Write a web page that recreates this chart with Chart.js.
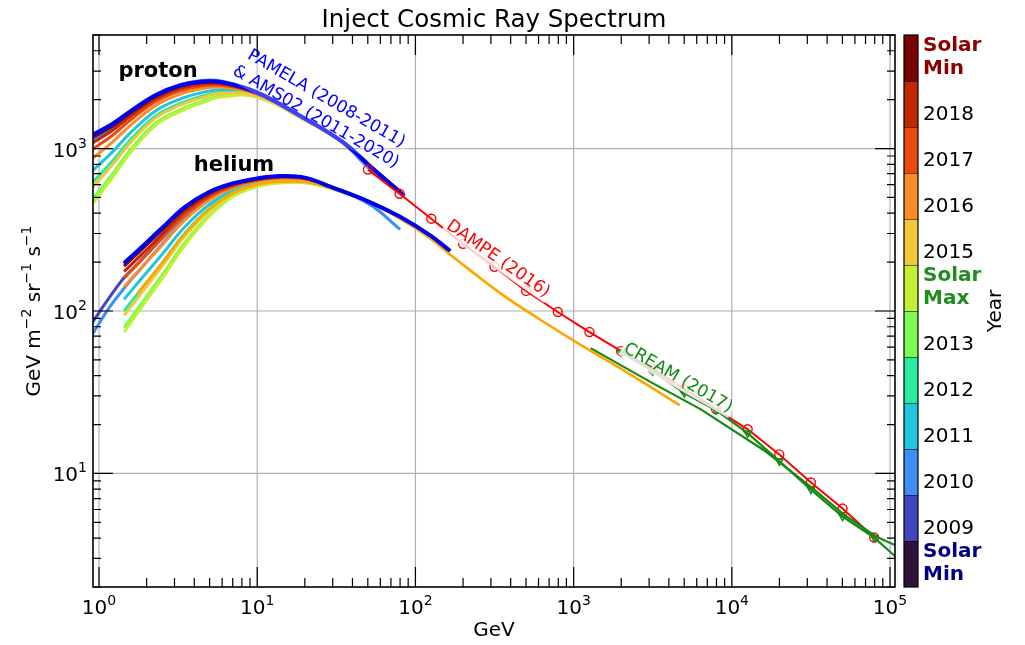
<!DOCTYPE html>
<html>
<head>
<meta charset="utf-8">
<script src="https://cdn.jsdelivr.net/npm/chart.js@4.4.1/dist/chart.umd.min.js"></script>
<style>
html,body{margin:0;padding:0;background:#fff;}
</style>
</head>
<body>
<canvas id="spectrumChart" width="1025" height="645"></canvas>
<script>
// Inject Cosmic Ray Spectrum

// colour bar, bottom to top
const yearNames = ["Solar Min","2009","2010","2011","2012","2013","Solar Max","2015","2016","2017","2018","Solar Min"];
const yearColors = ["#30123b","#4145c0","#3e8ef5","#20c5dc","#2ae9a0","#7cfb55","#c4f034","#f2c83a","#fc8b2a","#e84a12","#c12702","#7a0403"];

// tick labels (powers of ten)
const xTickExp = [0,1,2,3,4,5];
const yTickExp = [1,2,3];

// proton, one curve per colour bar entry (GeV, flux)
const protonE = [0.9,1.2,1.6,2.3,3.3,4.4,6,10,20,35,52,80];
const protonFlux = [
[1196,1395,1700,2130,2452,2575,2553,2207,1530,1090,775,543],
[1184,1384,1690,2121,2443,2566,2548,2205,1530,1090,775,543],
[1116,1322,1640,2100,2450,2620,2600,2230,1540,1075,740,530],
[723,941,1266,1715,2029,2202,2297,2135,1509,1088,774,543],
[611,826,1148,1596,1905,2091,2218,2112,1502,1087,773,543],
[482,686,999,1442,1743,1942,2110,2080,1492,1085,773,543],
[450,650,960,1400,1700,1900,2080,2070,1490,1085,773,543],
[570,782,1102,1550,1856,2046,2186,2102,1500,1087,773,543],
[863,1082,1405,1851,2170,2327,2384,2160,1517,1089,774,543],
[982,1195,1515,1956,2276,2422,2449,2178,1522,1090,775,543],
[1073,1282,1596,2032,2353,2489,2496,2191,1527,1090,775,543],
[1161,1363,1671,2103,2425,2551,2537,2203,1529,1090,775,543]
];

// PAMELA & AMS02 proton (thick blue)
const protonRefE = [0.9,1.2,1.6,2.3,3.3,4.4,6,10,20,35,52,85];
const protonRef = [1209,1406,1710,2140,2460,2580,2560,2210,1530,1090,775,510];

// helium, one curve per colour bar entry
const heliumE = [1.44,1.8,2.5,3.5,5,7,10,14,20,29,51,80];
const heliumWideE = [0.9,1.17,1.44,1.8,2.5,3.5,5,7,10,14,20,29,51,80];
const heliumFlux = [
[195,238,322,436,540,609,654,676,661,582,470,380],
[84,122,160,200,285,400,515,595,646,670,656,580,470,380],
[71,106,138,178,258,372,495,583,640,666,652,576,455,318],
[118,153,223,331,454,553,617,644,637,576,470,380],
[100,132,197,302,428,535,605,633,629,574,470,380],
[79,107,166,265,394,512,588,618,618,571,470,380],
[74,101,158,255,385,505,583,614,615,570,470,380],
[94,124,188,290,418,528,600,629,626,573,470,380],
[141,179,254,364,483,572,630,655,646,578,470,380],
[160,200,279,391,505,586,639,663,652,579,470,380],
[175,216,297,411,520,597,646,669,656,580,470,380],
[189,232,315,429,535,605,652,675,660,581,470,380]
];

// PAMELA & AMS02 helium (thick blue)
const heliumRefE = [1.44,1.8,2.5,3.5,5,7,10,14,20,29,51,80,124,166];
const heliumRef = [197,240,324,438,542,610,655,677,662,582,470,380,292,234];

// helium extended to high energy (orange)
const heliumExtE = [1.75,2.5,3.5,5,7,10,14,20,29,51,80,124,166,347,620,1100,2000,4690];
const heliumExt = [128,197,300,425,530,600,625,622,572,468,370,280,222,128,88,62,44,26.3];

// DAMPE (2016)
const dampeE = [50.1,79.4,126,200,316,501,794,1259,1995,3162,5012,7943,12589,19953,31623,50119,79433];
const dampeFlux = [742,527,370,259,187,133,98.6,74.2,56.6,43.9,33.0,24.9,18.7,13.1,8.8,6.08,4.03];

// CREAM (2017), two lines
const creamE = [1995,3162,5012,7943,12589,19953,31623,50119,79433,125893];
const creamFlux = [55.8,42.6,31.2,24.5,17.7,11.9,7.96,5.43,4.03,2.70];
const cream2E = [1282,3070,6370,15950,32600,51200,81500,120000];
const cream2Flux = [59.1,36.5,24.8,13.9,8.07,5.58,4.09,3.45];

const FONT = '"DejaVu Sans", sans-serif';

function pts(xs, ys){
return ys.map((y,i) => ({x: xs[i], y: y}));
}

function curve(xs, ys, color, width, order){
return {
data: pts(xs, ys),
borderColor: color,
borderWidth: width,
pointRadius: 0,
tension: 0.4,
fill: false,
order: order
};
}

const datasets = [];

datasets.push({
data: pts(creamE, creamFlux),
borderColor: "#138a13",
borderWidth: 2.2,
pointStyle: "triangle",
pointRotation: 180,
pointRadius: 4,
pointBorderColor: "#138a13",
pointBackgroundColor: "rgba(0,0,0,0)",
pointBorderWidth: 1.5,
tension: 0,
order: 0
});

datasets.push({
data: pts(cream2E, cream2Flux),
borderColor: "#138a13",
borderWidth: 2.2,
pointRadius: 0,
tension: 0,
order: 1
});

datasets.push({
data: pts(dampeE, dampeFlux),
borderColor: "#ff0000",
borderWidth: 2,
pointStyle: "circle",
pointRadius: 4.5,
pointBorderColor: "#ff0000",
pointBackgroundColor: "rgba(0,0,0,0)",
pointBorderWidth: 1.4,
tension: 0,
order: 2
});

datasets.push(curve(protonRefE, protonRef, "#0000f0", 4, 3));
datasets.push(curve(heliumRefE, heliumRef, "#0000f0", 4, 4));
datasets.push(curve(heliumExtE, heliumExt, "#ffa500", 2.6, 5));

yearColors.forEach((c, i) => {
datasets.push(curve(protonE, protonFlux[i], c, 3, 30 - i));
const hx = heliumFlux[i].length === heliumWideE.length ? heliumWideE : heliumE;
datasets.push(curve(hx, heliumFlux[i], c, 3, 30 - i));
});

function drawSup(ctx, runs, x, y, size, align){
// runs: [text, isSuperscript]
const small = Math.round(size * 0.7);
let total = 0;
const widths = runs.map(r => {
ctx.font = (r[1] ? small : size) + "px " + FONT;
const w = ctx.measureText(r[0]).width;
total += w;
return w;
});
let cx = align === "center" ? x - total / 2 : (align === "right" ? x - total : x);
ctx.textAlign = "left";
ctx.textBaseline = "alphabetic";
runs.forEach((r, i) => {
ctx.font = (r[1] ? small : size) + "px " + FONT;
ctx.fillText(r[0], cx, r[1] ? y - size * 0.45 : y);
cx += widths[i];
});
}

function rotLabel(ctx, lines, cx, cy, angle, color, size, lineH, alpha){
ctx.save();
ctx.translate(cx, cy);
ctx.rotate(angle * Math.PI / 180);
ctx.font = size + "px " + FONT;
let w = 0;
lines.forEach(l => { w = Math.max(w, ctx.measureText(l).width); });
const h = lines.length * lineH;
if (alpha > 0){
ctx.fillStyle = "rgba(255,255,255," + alpha + ")";
ctx.fillRect(-w / 2 - 2, -h / 2, w + 4, h);
}
ctx.fillStyle = color;
ctx.textAlign = "center";
ctx.textBaseline = "middle";
lines.forEach((l, i) => {
ctx.fillText(l, 0, -h / 2 + lineH * (i + 0.5));
});
ctx.restore();
}

const decor = {
id: "decor",
beforeDatasetsDraw(chart){
const {ctx, chartArea: a, scales: {x, y}} = chart;
ctx.save();
ctx.strokeStyle = "#b0b0b0";
ctx.lineWidth = 1.2;
xTickExp.forEach(k => {
const px = x.getPixelForValue(Math.pow(10, k));
ctx.beginPath(); ctx.moveTo(px, a.top); ctx.lineTo(px, a.bottom); ctx.stroke();
});
yTickExp.forEach(k => {
const py = y.getPixelForValue(Math.pow(10, k));
ctx.beginPath(); ctx.moveTo(a.left, py); ctx.lineTo(a.right, py); ctx.stroke();
});
ctx.restore();
},
afterDatasetsDraw(chart){
const ctx = chart.ctx;
ctx.save();
rotLabel(ctx, ["PAMELA (2008-2011)", "& AMS02 (2011-2020)"], 321, 108, 30, "#0000ff", 17, 21, 0.25);
rotLabel(ctx, ["DAMPE (2016)"], 498, 259, 35, "#ff0000", 17, 19, 0.8);
rotLabel(ctx, ["CREAM (2017)"], 678, 378, 30, "#138a13", 17, 19, 0.8);
ctx.fillStyle = "#000";
ctx.font = "bold 21px " + FONT;
ctx.textAlign = "center";
ctx.textBaseline = "middle";
ctx.fillText("proton", 158, 72);
ctx.fillText("helium", 234, 166);
ctx.restore();
},
afterDraw(chart){
const {ctx, chartArea: a, scales: {x, y}} = chart;
ctx.save();

// inward ticks on all four sides
ctx.strokeStyle = "#000";
ctx.lineWidth = 1.2;
const lx0 = Math.floor(Math.log10(x.min)), lx1 = Math.ceil(Math.log10(x.max));
for (let k = lx0; k <= lx1; k++){
for (let m = 1; m < 10; m++){
const v = m * Math.pow(10, k);
if (v < x.min || v > x.max) continue;
const px = x.getPixelForValue(v);
const len = m === 1 ? 20 : 9;
ctx.beginPath();
ctx.moveTo(px, a.bottom); ctx.lineTo(px, a.bottom - len);
ctx.moveTo(px, a.top); ctx.lineTo(px, a.top + len);
ctx.stroke();
}
}
const ly0 = Math.floor(Math.log10(y.min)), ly1 = Math.ceil(Math.log10(y.max));
for (let k = ly0; k <= ly1; k++){
for (let m = 1; m < 10; m++){
const v = m * Math.pow(10, k);
if (v < y.min || v > y.max) continue;
const py = y.getPixelForValue(v);
const len = m === 1 ? 20 : 8;
ctx.beginPath();
ctx.moveTo(a.left, py); ctx.lineTo(a.left + len, py);
ctx.moveTo(a.right, py); ctx.lineTo(a.right - len, py);
ctx.stroke();
}
}

// frame
ctx.lineWidth = 1.6;
ctx.strokeRect(a.left, a.top, a.right - a.left, a.bottom - a.top);

// tick labels
ctx.fillStyle = "#000";
xTickExp.forEach(k => {
drawSup(ctx, [["10", false], [String(k), true]], x.getPixelForValue(Math.pow(10, k)), a.bottom + 27, 20, "center");
});
yTickExp.forEach(k => {
drawSup(ctx, [["10", false], [String(k), true]], a.left - 6, y.getPixelForValue(Math.pow(10, k)) + 8, 20, "right");
});

// axis titles and title
ctx.font = "20px " + FONT;
ctx.textAlign = "center";
ctx.textBaseline = "middle";
ctx.fillText("GeV", (a.left + a.right) / 2, 631);
ctx.font = "24.5px " + FONT;
ctx.textBaseline = "alphabetic";
ctx.fillText("Inject Cosmic Ray Spectrum", (a.left + a.right) / 2, 27);

ctx.save();
ctx.translate(40, (a.top + a.bottom) / 2);
ctx.rotate(-Math.PI / 2);
drawSup(ctx, [["GeV m", false], ["\u22122", true], [" sr", false], ["\u22121", true], [" s", false], ["\u22121", true]], 0, 0, 20, "center");
ctx.restore();

// colour bar
const bx = 904, bw = 14;
const segH = (a.bottom - a.top) / yearColors.length;
yearColors.forEach((c, i) => {
const top = a.bottom - (i + 1) * segH;
ctx.fillStyle = c;
ctx.fillRect(bx, top, bw, segH);
});
ctx.strokeStyle = "rgba(0,0,0,0.55)";
ctx.lineWidth = 1;
for (let i = 1; i < yearColors.length; i++){
const yy = Math.round(a.bottom - i * segH) + 0.5;
ctx.beginPath(); ctx.moveTo(bx, yy); ctx.lineTo(bx + bw, yy); ctx.stroke();
}
ctx.strokeStyle = "#000";
ctx.lineWidth = 1.2;
ctx.strokeRect(bx, a.top, bw, a.bottom - a.top);

ctx.textAlign = "left";
ctx.textBaseline = "middle";
yearNames.forEach((name, i) => {
const k = yearColors.length - 1 - i;
const yy = a.top + (k + 1) * segH - 12;
if (name.indexOf("Solar") === 0){
ctx.fillStyle = i === 0 ? "#000080" : (i === 6 ? "#228b22" : "#8b0000");
ctx.font = "bold 20px " + FONT;
const parts = name.split(" ");
ctx.fillText(parts[0], 923, yy - 23);
ctx.fillText(parts[1], 923, yy);
} else {
ctx.fillStyle = "#000";
ctx.font = "20px " + FONT;
ctx.fillText(name, 923, yy);
}
});

ctx.save();
ctx.fillStyle = "#000";
ctx.translate(996, (a.top + a.bottom) / 2);
ctx.rotate(-Math.PI / 2);
ctx.font = "20px " + FONT;
ctx.textAlign = "center";
ctx.textBaseline = "middle";
ctx.fillText("Year", 0, 0);
ctx.restore();

ctx.restore();
}
};

new Chart(
document.getElementById("spectrumChart"),
{
type: "line",
data: {datasets: datasets},
options: {
responsive: false,
animation: false,
events: [],
layout: {padding: {top: 35, right: 130, left: 0, bottom: 0}},
plugins: {
legend: {display: false},
tooltip: {enabled: false},
title: {display: false}
},
scales: {
x: {
type: "logarithmic",
min: 0.916,
max: 107500,
grid: {display: false},
border: {display: false},
ticks: {display: false},
afterFit(s){ s.height = 58; }
},
y: {
type: "logarithmic",
min: 2,
max: 5000,
grid: {display: false},
border: {display: false},
ticks: {display: false},
afterFit(s){ s.width = 93; }
}
}
},
plugins: [decor]
}
);
</script>
</body>
</html>
